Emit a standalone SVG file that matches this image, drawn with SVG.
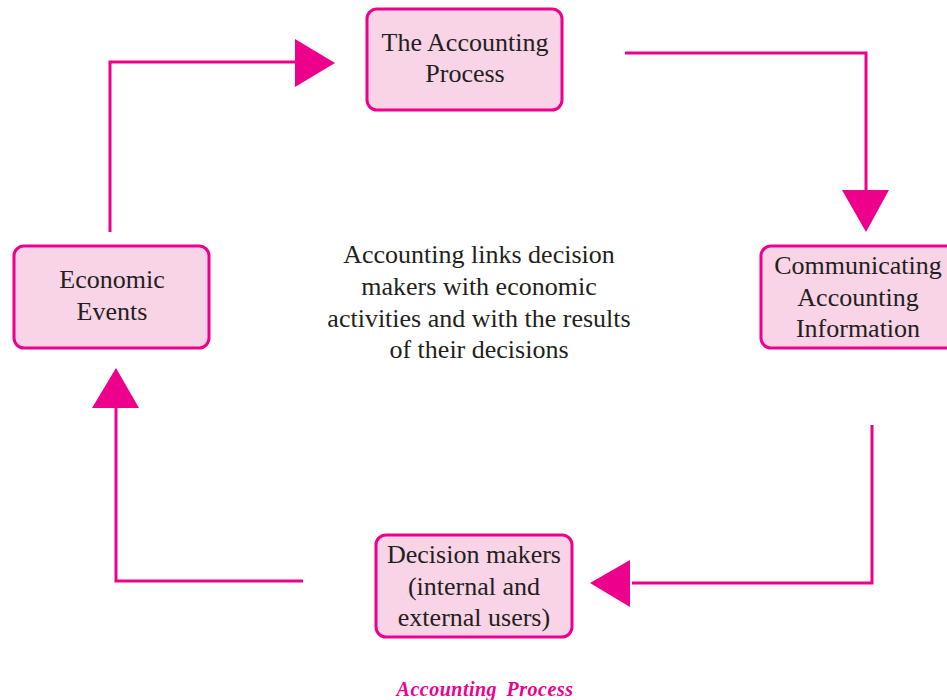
<svg xmlns="http://www.w3.org/2000/svg" width="947" height="700" viewBox="0 0 947 700">
<style>
.box{fill:#F9D3E6;stroke:#EC008C;stroke-width:3}
.t{font-family:"Liberation Serif",serif;font-size:26px;fill:#231F20;text-anchor:middle}
.ln{fill:none;stroke:#EC008C;stroke-width:3}
.hd{fill:#EC008C}
.cap{font-family:"Liberation Serif",serif;font-size:20px;font-weight:bold;font-style:italic;fill:#EC008C;text-anchor:middle;letter-spacing:0.5px;word-spacing:4px}
</style>
<rect width="947" height="700" fill="#fff"/>
<g id="connectors">
<polyline class="ln" points="110,232 110,62 297,62"/>
<polygon class="hd" points="295,39 335,63 295,87"/>
<polyline class="ln" points="625,53 866,53 866,192"/>
<polygon class="hd" points="842,190 889,190 866,232"/>
<polyline class="ln" points="872,425 872,583 632,583"/>
<polygon class="hd" points="630,560 630,607 590,583"/>
<polyline class="ln" points="303,581 116,581 116,406"/>
<polygon class="hd" points="92,408 139,408 116,368"/>
</g>
<g id="accounting-process">
<rect class="box" x="367" y="9" width="195" height="101" rx="10"/>
<text class="t" x="465" y="51">The Accounting</text>
<text class="t" x="465" y="82">Process</text>
</g>
<g id="communicating">
<rect class="box" x="761" y="246" width="200" height="102" rx="10"/>
<text class="t" x="858" y="274">Communicating</text>
<text class="t" x="858" y="306">Accounting</text>
<text class="t" x="858" y="337">Information</text>
</g>
<g id="decision-makers">
<rect class="box" x="376" y="535" width="196" height="102" rx="10"/>
<text class="t" x="474" y="563">Decision makers</text>
<text class="t" x="474" y="595">(internal and</text>
<text class="t" x="474" y="626">external users)</text>
</g>
<g id="economic-events">
<rect class="box" x="14" y="246" width="195" height="102" rx="10"/>
<text class="t" x="112" y="288">Economic</text>
<text class="t" x="112" y="320">Events</text>
</g>
<g id="center-note">
<text class="t" x="479" y="263">Accounting links decision</text>
<text class="t" x="479" y="295">makers with economic</text>
<text class="t" x="479" y="327">activities and with the results</text>
<text class="t" x="479" y="358">of their decisions</text>
</g>
<text class="cap" x="485" y="696">Accounting Process</text>
</svg>
